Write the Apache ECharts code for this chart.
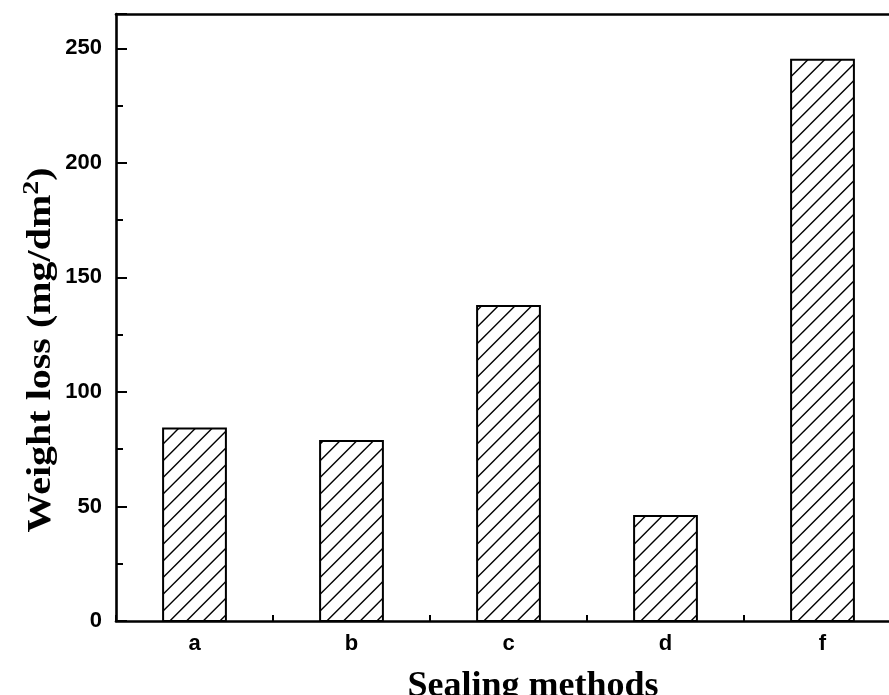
<!DOCTYPE html>
<html>
<head>
<meta charset="utf-8">
<script src="https://cdn.jsdelivr.net/npm/echarts@6/dist/echarts.min.js"></script>
<style>html,body{margin:0;padding:0;background:#fff;}#c{width:889px;height:695px;}</style>
</head>
<body>
<div id="c"></div>
<script>
const categories = ['a', 'b', 'c', 'd', 'f'];
const weightLoss = [84, 78.6, 137.5, 45.8, 245];
const yTicks = [0, 50, 100, 150, 200, 250];

const chart = echarts.init(document.getElementById('c'), null, {renderer: 'canvas'});
const black = '#000';

function renderBar(params, api) {
  const idx = api.value(0);
  const val = api.value(1);
  const top = api.coord([idx, val]);
  const base = api.coord([idx, 0]);
  const w = api.size([1, 0])[0] * 0.4;
  const x0 = top[0] - w / 2, x1 = top[0] + w / 2;
  const y0 = top[1], y1 = base[1];
  const children = [];
  children.push({type: 'rect', shape: {x: x0, y: y0, width: w, height: y1 - y0},
    style: {fill: '#fff', stroke: null}});
  const step = 16.7;
  const cStart = x0 + y0;
  const cEnd = x1 + y1;
  for (let c = cEnd - 6; c > cStart; c -= step) {
    const xa = Math.max(x0, c - y1);
    const xb = Math.min(x1, c - y0);
    if (xb <= xa) continue;
    children.push({type: 'line', shape: {x1: xa, y1: c - xa, x2: xb, y2: c - xb},
      style: {stroke: black, lineWidth: 1.4}});
  }
  children.push({type: 'rect', shape: {x: x0, y: y0, width: w, height: y1 - y0},
    style: {fill: null, stroke: black, lineWidth: 2}});
  return {type: 'group', children: children};
}

const option = {
  animation: false,
  backgroundColor: '#fff',
  grid: {left: 116, width: 785, top: 14, bottom: 74, containLabel: false, outerBoundsMode: 'none'},
  xAxis: [
    {
      type: 'category', data: categories, position: 'bottom', boundaryGap: true,
      axisLine: {show: true, lineStyle: {color: black, width: 2.6}},
      axisTick: {show: true, inside: true, length: 6, alignWithLabel: false, lineStyle: {color: black, width: 2}},
      axisLabel: {show: true, color: black, fontFamily: '"Liberation Sans", Arial, sans-serif', fontWeight: 'bold', fontSize: 22, margin: 12},
      splitLine: {show: false}
    },
    {
      type: 'category', data: categories, position: 'bottom', boundaryGap: true,
      axisLine: {show: false},
      axisTick: {show: true, inside: true, length: 10, alignWithLabel: true, lineStyle: {color: black, width: 2}},
      axisLabel: {show: false},
      splitLine: {show: false}
    },
    {
      type: 'category', data: categories, position: 'top', boundaryGap: true,
      axisLine: {show: true, lineStyle: {color: black, width: 2.6}},
      axisTick: {show: false}, axisLabel: {show: false}, splitLine: {show: false}
    }
  ],
  yAxis: {
    type: 'value', min: 0, max: 265, interval: 50,
    axisLine: {show: true, lineStyle: {color: black, width: 2.6}},
    axisTick: {show: true, inside: true, length: 11, lineStyle: {color: black, width: 2}},
    minorTick: {show: true, splitNumber: 2, length: 7, lineStyle: {color: black, width: 2}},
    axisLabel: {color: black, fontFamily: '"Liberation Sans", Arial, sans-serif', fontWeight: 'bold', fontSize: 22, margin: 14,
      formatter: function (v) { return yTicks.indexOf(v) >= 0 ? String(v) : ''; }},
    splitLine: {show: false}
  },
  series: [{
    type: 'custom',
    xAxisIndex: 0,
    renderItem: renderBar,
    data: weightLoss.map((v, i) => [i, v]),
    encode: {x: 0, y: 1}
  }],
  graphic: [
    {
      type: 'text', x: 39, y: 350, rotation: Math.PI / 2, scaleY: 0.82,
      style: {
        text: '{a|Weight loss (mg/dm}{s|2}{a|)}',
        align: 'center', verticalAlign: 'middle', fill: black,
        rich: {
          a: {fontFamily: '"Liberation Serif", "Times New Roman", serif', fontWeight: 'bold', fontSize: 40, fill: black, verticalAlign: 'bottom'},
          s: {fontFamily: '"Liberation Serif", "Times New Roman", serif', fontWeight: 'bold', fontSize: 28, fill: black, padding: [0, 0, 18, 0], verticalAlign: 'bottom'}
        }
      }
    },
    {
      type: 'text', x: 533, y: 669,
      style: {
        text: 'Sealing methods', align: 'center', verticalAlign: 'top', fill: black,
        font: 'bold 36px "Liberation Serif", "Times New Roman", serif'
      }
    }
  ]
};
chart.setOption(option);
</script>
</body>
</html>
